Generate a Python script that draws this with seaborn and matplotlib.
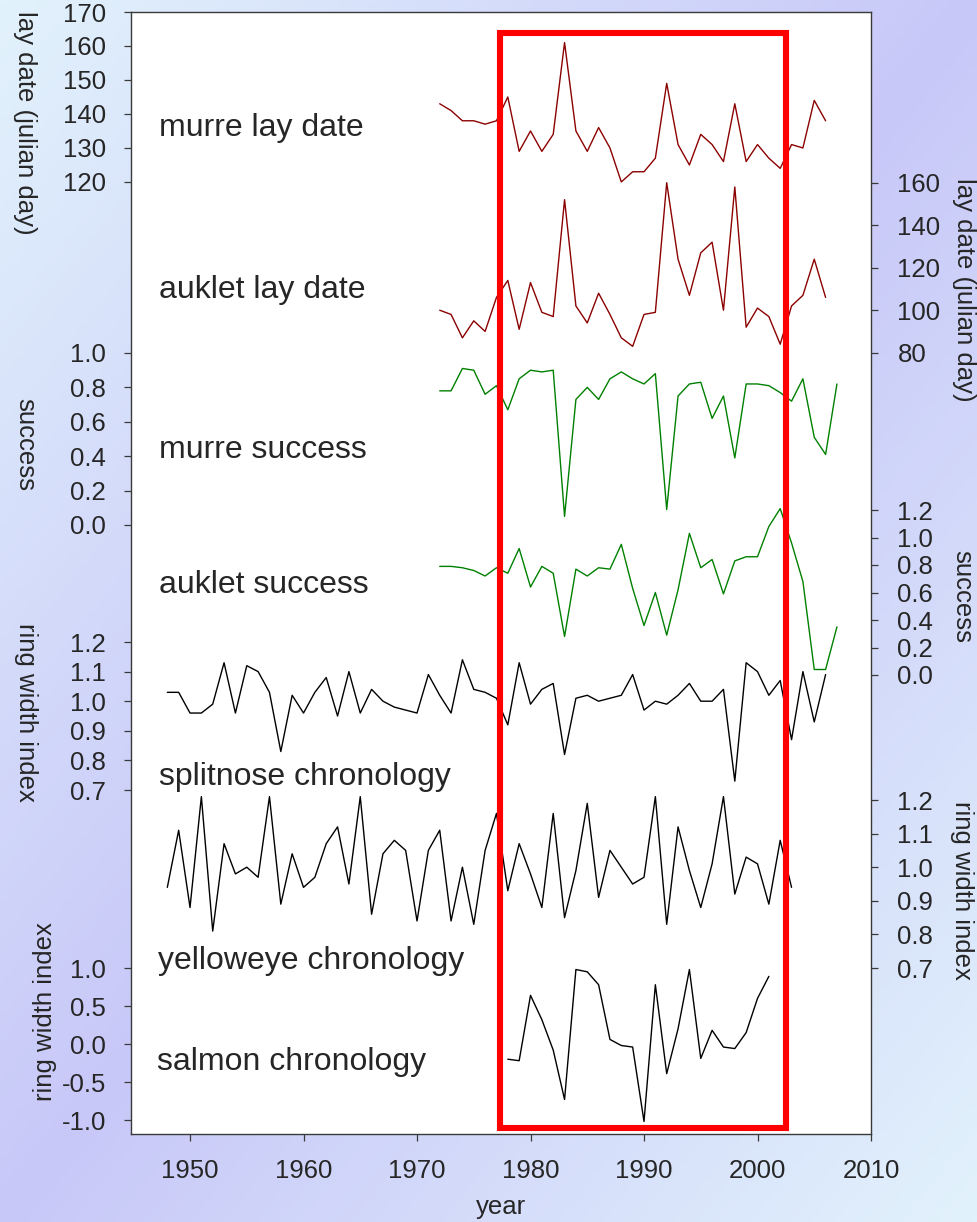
import numpy as np
import matplotlib
matplotlib.use("Agg")
import matplotlib.pyplot as plt
import seaborn as sns
from matplotlib.colors import LinearSegmentedColormap
from matplotlib.patches import Rectangle

# ---------------- data ----------------
lay_years = list(range(1972, 2007))
murre_lay = [143, 141, 138, 138, 137, 138, 145, 129, 135, 129,
             134, 161, 135, 129, 136, 130, 120, 123, 123, 127,
             149, 131, 125, 134, 131, 126, 143, 126, 131, 127,
             124, 131, 130, 144, 138]
auklet_lay = [100, 98, 87, 95, 90, 106, 114, 91, 113, 99,
              97, 152, 102, 94, 108, 98, 87, 83, 98, 99,
              160, 124, 107, 127, 132, 100, 158, 92, 101, 97,
              84, 102, 107, 124, 106]

success_years = list(range(1972, 2008))
murre_success = [0.78, 0.78, 0.91, 0.90, 0.76, 0.81, 0.67, 0.85, 0.90, 0.89,
                 0.90, 0.05, 0.73, 0.80, 0.73, 0.85, 0.89, 0.85, 0.82, 0.88,
                 0.09, 0.75, 0.82, 0.83, 0.62, 0.75, 0.39, 0.82, 0.82, 0.81,
                 0.77, 0.72, 0.85, 0.51, 0.41, 0.82]
auklet_success = [0.79, 0.79, 0.78, 0.76, 0.72, 0.78, 0.74, 0.92, 0.64, 0.79,
                  0.74, 0.28, 0.77, 0.72, 0.78, 0.77, 0.95, 0.63, 0.36, 0.60,
                  0.29, 0.62, 1.03, 0.78, 0.84, 0.59, 0.83, 0.86, 0.86, 1.08,
                  1.21, 0.96, 0.68, 0.04, 0.04, 0.35]

splitnose_years = list(range(1948, 2007))
splitnose = [1.03, 1.03, 0.96, 0.96, 0.99, 1.13, 0.96, 1.12, 1.10, 1.03,
             0.83, 1.02, 0.96, 1.03, 1.08, 0.95, 1.10, 0.96, 1.04, 1.00,
             0.98, 0.97, 0.96, 1.09, 1.02, 0.96, 1.14, 1.04, 1.03, 1.01,
             0.92, 1.13, 0.99, 1.04, 1.06, 0.82, 1.01, 1.02, 1.00, 1.01,
             1.02, 1.09, 0.97, 1.00, 0.99, 1.02, 1.06, 1.00, 1.00, 1.04,
             0.73, 1.13, 1.10, 1.02, 1.07, 0.87, 1.10, 0.93, 1.09]

yelloweye_years = list(range(1948, 2004))
yelloweye = [0.94, 1.11, 0.88, 1.21, 0.81, 1.07, 0.98, 1.00, 0.97, 1.21,
             0.89, 1.04, 0.94, 0.97, 1.07, 1.12, 0.95, 1.21, 0.86, 1.04,
             1.08, 1.05, 0.84, 1.05, 1.11, 0.84, 1.00, 0.83, 1.05, 1.16,
             0.93, 1.07, 0.98, 0.88, 1.16, 0.85, 0.99, 1.19, 0.91, 1.05,
             1.00, 0.95, 0.97, 1.21, 0.83, 1.12, 0.99, 0.88, 1.01, 1.21,
             0.92, 1.03, 1.01, 0.89, 1.08, 0.94]

salmon_years = list(range(1978, 2002))
salmon = [-0.20, -0.22, 0.64, 0.32, -0.08, -0.73, 0.98, 0.95, 0.78, 0.06,
          -0.02, -0.04, -1.02, 0.78, -0.39, 0.20, 0.98, -0.19, 0.18, -0.04,
          -0.06, 0.15, 0.60, 0.89]

year_ticks = [1950, 1960, 1970, 1980, 1990, 2000, 2010]

# ---------------- layout ----------------
W, H = 978, 1222
PL, PR, PT, PB = 131, 871, 12, 1133.5
TICK_FS = 18.5

sns.set_style("white")
plt.rcParams['font.family'] = ['Liberation Sans', 'DejaVu Sans']
plt.rcParams['axes.unicode_minus'] = False

fig = plt.figure(figsize=(W / 100, H / 100), dpi=100)

# slide-like diagonal gradient background
bg = fig.add_axes([0, 0, 1, 1], zorder=-5)
u = np.linspace(0, 1, 300)[None, :]
v = np.linspace(0, 1, 400)[:, None]
grad = 1 - np.abs(u + v - 1)
bg_cmap = LinearSegmentedColormap.from_list('bg', ['#E2F2FC', '#C8C8F8'])
bg.imshow(grad, cmap=bg_cmap, aspect='auto', extent=[0, 1, 0, 1],
          origin='upper', vmin=0, vmax=1)
bg.axis('off')

rect = [PL / W, 1 - PB / H, (PR - PL) / W, (PB - PT) / H]
XLIM = (1944.8, 2010)

ax = fig.add_axes(rect)
ax.set_facecolor('white')
ax.set_xlim(*XLIM)
ax.set_ylim(0, 1)
ax.set_yticks([])
ax.set_xticks(year_ticks)
ax.set_xticklabels([str(y) for y in year_ticks])
for s in ax.spines.values():
    s.set_visible(True)
    s.set_color('#3a3a3a')
    s.set_linewidth(1.0)
ax.tick_params(axis='x', direction='out', length=5, width=0.9, color='#3a3a3a',
               pad=13, labelsize=TICK_FS, bottom=True)
ax.set_xlabel('year', fontsize=TICK_FS, labelpad=9)


def band(side, ticks, labels, top_px, bot_px):
    a = fig.add_axes(rect)
    a.patch.set_visible(False)
    for s in a.spines.values():
        s.set_visible(False)
    k = (bot_px - top_px) / (ticks[0] - ticks[-1])
    a.set_ylim(ticks[-1] - (PB - bot_px) / k, ticks[0] + (top_px - PT) / k)
    a.set_xlim(*XLIM)
    a.set_xticks([])
    a.set_yticks(ticks)
    a.set_yticklabels(labels)
    left = side == 'left'
    a.tick_params(axis='y', direction='out', length=5, width=0.9, color='#3a3a3a',
                  labelsize=TICK_FS, pad=13 if left else 14,
                  left=left, labelleft=left, right=not left, labelright=not left)
    return a


def fmt(vals, f):
    return [f.format(x) for x in vals]


panels = [
    ('left', [170, 160, 150, 140, 130, 120], '{:.0f}', 11.7, 181.7,
     lay_years, murre_lay, '#8B0000'),
    ('right', [160, 140, 120, 100, 80], '{:.0f}', 182.7, 352.7,
     lay_years, auklet_lay, '#8B0000'),
    ('left', [1.0, 0.8, 0.6, 0.4, 0.2, 0.0], '{:.1f}', 353, 525,
     success_years, murre_success, '#008000'),
    ('right', [1.2, 1.0, 0.8, 0.6, 0.4, 0.2, 0.0], '{:.1f}', 510, 675,
     success_years, auklet_success, '#008000'),
    ('left', [1.2, 1.1, 1.0, 0.9, 0.8, 0.7], '{:.1f}', 642, 790,
     splitnose_years, splitnose, 'black'),
    ('right', [1.2, 1.1, 1.0, 0.9, 0.8, 0.7], '{:.1f}', 800, 968,
     yelloweye_years, yelloweye, 'black'),
    ('left', [1.0, 0.5, 0.0, -0.5, -1.0], '{:.1f}', 968, 1120,
     salmon_years, salmon, 'black'),
]

for side, ticks, f, top_px, bot_px, xs, ys, col in panels:
    a = band(side, ticks, fmt(ticks, f), top_px, bot_px)
    sns.lineplot(x=xs, y=ys, ax=a, color=col, linewidth=1.0)
    a.set_xlabel('')
    a.set_ylabel('')

# red highlight box
top = fig.add_axes(rect)
top.patch.set_visible(False)
top.axis('off')
top.set_xlim(*XLIM)
top.set_ylim(0, 1)
top.add_patch(Rectangle((1977.27, 0.005), 2002.5 - 1977.27, 0.976,
                        fill=False, edgecolor='#FF0000', linewidth=4.4,
                        joinstyle='miter'))


def fx(px):
    return px / W


def fy(py):
    return 1 - py / H


series_labels = [
    ('murre lay date', 159, 128),
    ('auklet lay date', 159, 290),
    ('murre success', 159, 450),
    ('auklet success', 159, 585),
    ('splitnose chronology', 159, 777),
    ('yelloweye chronology', 158, 961),
    ('salmon chronology', 157, 1062),
]
for txt, px, py in series_labels:
    fig.text(fx(px), fy(py), txt, fontsize=23, ha='left', va='center')

axis_titles = [
    ('lay date (julian day)', 25, 123, 270),
    ('lay date (julian day)', 964, 290, 270),
    ('success', 25, 445, 270),
    ('success', 962, 597, 270),
    ('ring width index', 26, 712, 270),
    ('ring width index', 962, 890, 270),
    ('ring width index', 45, 1012, 90),
]
for txt, px, py, rot in axis_titles:
    fig.text(fx(px), fy(py), txt, fontsize=18.5, rotation=rot,
             ha='center', va='center')

fig.savefig('out.png', dpi=100)
